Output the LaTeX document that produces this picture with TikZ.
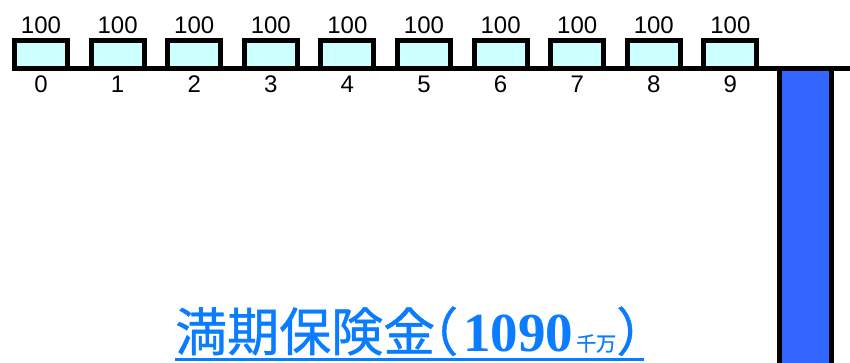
\documentclass[tikz,border=0pt]{standalone}
\usepackage{fontspec}
\setmainfont{Liberation Sans}
\newfontfamily\jpfont[FakeBold=0.8]{Noto Sans CJK JP}
\newfontfamily\numserif{Liberation Serif}
\definecolor{boxfill}{HTML}{CCFFFF}
\definecolor{barblue}{HTML}{3366FF}
\definecolor{titleblue}{HTML}{0A7CFF}
\begin{document}
\begin{tikzpicture}[x=1pt,y=-1pt,
  cell/.style={draw=black, fill=boxfill, line width=5pt},
  toplabel/.style={font=\fontsize{24}{24}\selectfont, inner sep=0pt, anchor=base},
  idxlabel/.style={font=\fontsize{24}{24}\selectfont, inner sep=0pt, anchor=base}]
\useasboundingbox (0,0) rectangle (850,362);
\fill[white] (0,0) rectangle (850,362);
\foreach \i in {0,...,9}{
  \pgfmathsetmacro{\xl}{14.5+76.6*\i}
  \pgfmathsetmacro{\xr}{\xl+53}
  \pgfmathsetmacro{\xc}{\xl+26.5}
  \draw[cell] (\xl,40.5) rectangle (\xr,68);
  \node[toplabel] (top\i) at (\xc,33) {100};
  \node[idxlabel] (idx\i) at (\xc,92.5) {\i};
}
\coordinate (lineL) at (12,68);
\coordinate (lineR) at (852,68);
\draw[line width=5pt] (lineL) -- (lineR);
\draw[draw=black, fill=barblue, line width=5pt] (779.5,68) rectangle (831.5,372);
\node[anchor=base west, inner sep=0pt, text=titleblue] (title) at (175,351)
  {\jpfont\fontsize{52}{52}\selectfont 満期保険金\kern-29pt（\kern5pt{\numserif\bfseries\fontsize{55}{55}\selectfont 1090}\kern3pt{\fontsize{20}{20}\selectfont 千万}）};
\coordinate (ulL) at (175,359);
\coordinate (ulR) at (644,359);
\draw[titleblue, line width=3pt] (ulL) -- (ulR);
\end{tikzpicture}
\end{document}
